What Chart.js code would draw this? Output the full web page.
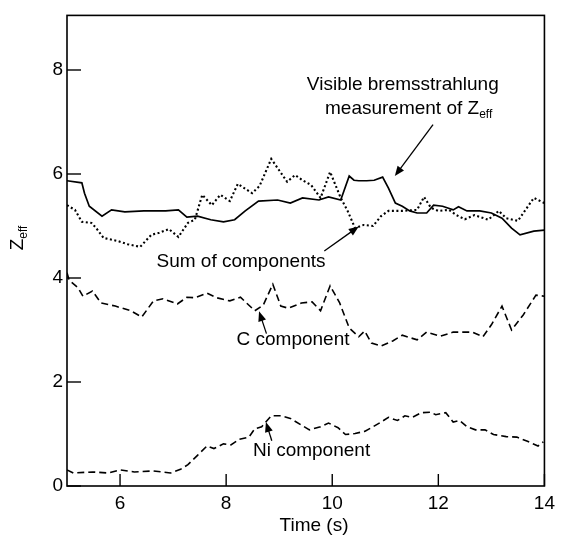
<!DOCTYPE html>
<html>
<head>
<meta charset="utf-8">
<script src="https://cdn.jsdelivr.net/npm/chart.js@4.4.1/dist/chart.umd.min.js"></script>
<style>
html,body{margin:0;padding:0;background:#fff;}
canvas{display:block;}
</style>
</head>
<body>
<canvas id="c" width="561" height="543"></canvas>
<script>
// ---- data ----
const xTicks = [6, 8, 10, 12, 14];
const yTicks = [0, 2, 4, 6, 8];

const zeffTime = [5.0,5.28,5.33,5.42,5.66,5.84,6.09,6.45,6.86,7.10,7.26,7.46,7.71,7.95,8.16,8.36,8.61,8.97,9.21,9.44,9.75,9.93,10.16,10.32,10.41,10.50,10.65,10.79,10.95,11.06,11.19,11.32,11.46,11.60,11.78,11.91,12.08,12.28,12.38,12.54,12.78,13.0,13.20,13.38,13.54,13.80,14.0];
const zeffValues = [5.87,5.83,5.63,5.38,5.19,5.31,5.27,5.29,5.29,5.31,5.17,5.19,5.12,5.08,5.12,5.29,5.48,5.50,5.44,5.54,5.50,5.56,5.50,5.96,5.88,5.87,5.87,5.88,5.94,5.73,5.44,5.38,5.29,5.25,5.25,5.40,5.38,5.31,5.37,5.29,5.29,5.25,5.15,4.96,4.83,4.90,4.92];

const sumTime = [5.0,5.15,5.28,5.46,5.55,5.69,5.96,6.14,6.38,6.59,6.74,6.92,7.10,7.28,7.41,7.55,7.73,7.89,8.07,8.22,8.49,8.63,8.85,9.15,9.30,9.44,9.60,9.78,9.96,10.16,10.29,10.43,10.59,10.77,10.92,11.06,11.32,11.60,11.73,11.86,12.0,12.20,12.34,12.50,12.68,12.94,13.14,13.28,13.50,13.80,14.0];
const sumValues = [5.40,5.31,5.08,5.06,4.96,4.77,4.71,4.65,4.60,4.83,4.87,4.94,4.79,5.06,5.12,5.60,5.40,5.60,5.48,5.81,5.63,5.77,6.29,5.85,5.98,5.88,5.79,5.54,6.04,5.54,5.29,4.96,5.02,5.00,5.19,5.29,5.29,5.31,5.56,5.35,5.29,5.31,5.21,5.13,5.21,5.12,5.29,5.15,5.10,5.54,5.44];

const cTime = [5.0,5.04,5.21,5.30,5.48,5.64,5.91,6.20,6.41,6.63,6.81,7.08,7.26,7.41,7.64,7.82,8.07,8.27,8.54,8.70,8.88,9.03,9.17,9.42,9.62,9.78,9.96,10.14,10.32,10.50,10.61,10.74,10.92,11.14,11.32,11.60,11.78,12.04,12.28,12.64,12.84,13.0,13.20,13.38,13.60,13.84,14.0];
const cValues = [4.10,3.96,3.81,3.65,3.75,3.52,3.46,3.37,3.25,3.56,3.60,3.50,3.63,3.62,3.71,3.62,3.56,3.63,3.37,3.48,3.88,3.46,3.42,3.52,3.54,3.37,3.85,3.52,3.04,2.87,2.98,2.75,2.69,2.79,2.90,2.81,2.96,2.88,2.96,2.96,2.87,3.10,3.46,3.00,3.29,3.67,3.65];

const niTime = [5.0,5.12,5.48,5.78,6.0,6.27,6.63,6.95,7.14,7.28,7.46,7.64,7.77,7.95,8.09,8.25,8.43,8.54,8.67,8.85,9.03,9.21,9.42,9.57,9.78,9.93,10.11,10.25,10.43,10.61,10.77,10.92,11.06,11.23,11.37,11.51,11.68,11.86,11.95,12.14,12.28,12.40,12.54,12.70,12.88,13.04,13.28,13.48,13.68,13.88,13.98];
const niValues = [0.31,0.25,0.27,0.25,0.31,0.27,0.29,0.25,0.32,0.41,0.59,0.77,0.72,0.81,0.79,0.90,0.94,1.10,1.14,1.35,1.35,1.30,1.17,1.08,1.14,1.21,1.12,0.99,1.01,1.05,1.14,1.23,1.32,1.26,1.35,1.32,1.41,1.42,1.37,1.41,1.23,1.26,1.14,1.08,1.08,0.99,0.95,0.94,0.86,0.77,0.85];

const xTitle = 'Time (s)';
const yTitleMain = 'Z';
const yTitleSub = 'eff';

// ---- styling ----
const FONT = '"Liberation Sans", Arial, Helvetica, sans-serif';
const FS = 19;
const INK = '#000';

function pts(xs, ys){ return xs.map((v,i)=>({x:v, y:ys[i]})); }

function textWithSub(ctx, main, sub, x, y, align){
  ctx.font = FS + 'px ' + FONT;
  const wm = ctx.measureText(main).width;
  ctx.font = Math.round(FS*0.65) + 'px ' + FONT;
  const ws = ctx.measureText(sub).width;
  const w = wm + ws;
  let sx = x;
  if (align === 'center') sx = x - w/2;
  else if (align === 'right') sx = x - w;
  ctx.textAlign = 'left';
  ctx.textBaseline = 'alphabetic';
  ctx.font = FS + 'px ' + FONT;
  ctx.fillText(main, sx, y);
  ctx.font = Math.round(FS*0.65) + 'px ' + FONT;
  ctx.fillText(sub, sx + wm, y + 4);
}

function arrow(ctx, x1, y1, x2, y2){
  const ang = Math.atan2(y2-y1, x2-x1);
  const L = 10, W = 4;
  ctx.beginPath();
  ctx.moveTo(x1, y1);
  ctx.lineTo(x2 - Math.cos(ang)*L*0.8, y2 - Math.sin(ang)*L*0.8);
  ctx.stroke();
  ctx.beginPath();
  ctx.moveTo(x2, y2);
  ctx.lineTo(x2 - Math.cos(ang)*L + Math.sin(ang)*W, y2 - Math.sin(ang)*L - Math.cos(ang)*W);
  ctx.lineTo(x2 - Math.cos(ang)*L - Math.sin(ang)*W, y2 - Math.sin(ang)*L + Math.cos(ang)*W);
  ctx.closePath();
  ctx.fill();
}

const overlay = {
  id: 'overlay',
  afterDraw(chart){
    const {ctx, chartArea:a, scales:{x, y}} = chart;
    const X = v => x.getPixelForValue(v), Y = v => y.getPixelForValue(v);
    ctx.save();
    ctx.strokeStyle = INK; ctx.fillStyle = INK;
    // frame
    ctx.lineWidth = 1.6;
    ctx.strokeRect(a.left, a.top, a.right - a.left, a.bottom - a.top);
    // inward tick marks
    ctx.lineWidth = 1.4;
    xTicks.forEach(v => { const p = X(v); ctx.beginPath(); ctx.moveTo(p, a.bottom); ctx.lineTo(p, a.bottom - 12); ctx.stroke(); });
    yTicks.forEach(v => { const p = Y(v); ctx.beginPath(); ctx.moveTo(a.left, p); ctx.lineTo(a.left + 14, p); ctx.stroke(); });

    // axis titles
    ctx.font = FS + 'px ' + FONT;
    ctx.textAlign = 'center'; ctx.textBaseline = 'middle';
    ctx.fillText(xTitle, 314, 526);
    ctx.save();
    ctx.translate(23, 238);
    ctx.rotate(-Math.PI/2);
    textWithSub(ctx, yTitleMain, yTitleSub, 0, 0, 'center');
    ctx.restore();

    // annotations
    ctx.font = FS + 'px ' + FONT;
    ctx.textAlign = 'center'; ctx.textBaseline = 'alphabetic';
    ctx.fillText('Visible bremsstrahlung', X(11.33), Y(7.62));
    textWithSub(ctx, 'measurement of Z', 'eff', X(11.44), Y(7.15), 'center');
    ctx.font = FS + 'px ' + FONT;
    ctx.textAlign = 'center';
    ctx.fillText('Sum of components', X(8.28), Y(4.22));
    ctx.fillText('C component', X(9.26), Y(2.72));
    ctx.fillText('Ni component', X(9.61), Y(0.58));

    ctx.lineWidth = 1.3;
    arrow(ctx, X(11.90), Y(6.95), X(11.18), Y(5.96));
    arrow(ctx, X(9.85), Y(4.52), X(10.50), Y(4.99));
    arrow(ctx, X(8.76), Y(2.93), X(8.62), Y(3.36));
    arrow(ctx, X(8.86), Y(0.87), X(8.75), Y(1.23));
    ctx.restore();
  }
};

const common = { borderColor: INK, pointRadius: 0, tension: 0, fill: false };

new Chart(document.getElementById('c'), {
  type: 'line',
  data: {
    datasets: [
      Object.assign({ label: 'Visible bremsstrahlung measurement of Zeff', data: pts(zeffTime, zeffValues), borderWidth: 1.7 }, common),
      Object.assign({ label: 'Sum of components', data: pts(sumTime, sumValues), borderWidth: 2.1, borderDash: [2, 2.5] }, common),
      Object.assign({ label: 'C component', data: pts(cTime, cValues), borderWidth: 1.6, borderDash: [7, 4] }, common),
      Object.assign({ label: 'Ni component', data: pts(niTime, niValues), borderWidth: 1.6, borderDash: [7, 4] }, common)
    ]
  },
  options: {
    responsive: false,
    animation: false,
    devicePixelRatio: 1,
    layout: { padding: { top: 7, right: 6, left: 0, bottom: 0 } },
    plugins: { legend: { display: false }, tooltip: { enabled: false } },
    scales: {
      x: {
        type: 'linear', min: 5, max: 14,
        afterBuildTicks: s => { s.ticks = xTicks.map(v => ({ value: v })); },
        afterFit: s => { s.height = 57; },
        grid: { display: false, drawTicks: false },
        border: { display: false },
        ticks: { color: INK, font: { family: FONT, size: FS }, padding: 6, maxRotation: 0 }
      },
      y: {
        type: 'linear', min: 0, max: 9.05,
        afterBuildTicks: s => { s.ticks = yTicks.map(v => ({ value: v })); },
        afterFit: s => { s.width = 67; },
        grid: { display: false, drawTicks: false },
        border: { display: false },
        ticks: { color: INK, font: { family: FONT, size: FS }, padding: 4 }
      }
    }
  },
  plugins: [overlay]
});
</script>
</body>
</html>
